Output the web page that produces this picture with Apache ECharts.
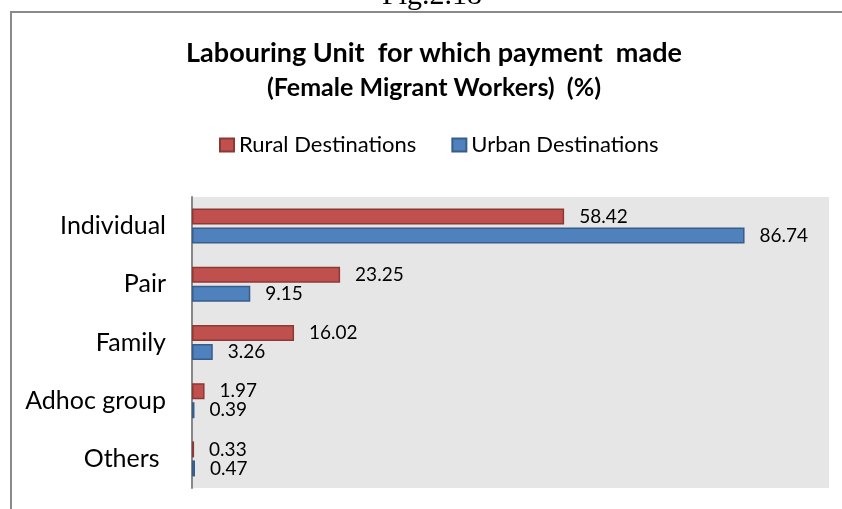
<!DOCTYPE html>
<html>
<head>
<meta charset="utf-8">
<script src="https://cdn.jsdelivr.net/npm/echarts@6/dist/echarts.min.js"></script>
<style>
  html, body { margin: 0; padding: 0; background: #fff; }
  #chart { width: 842px; height: 509px; }
</style>
</head>
<body>
<div id="chart"></div>
<script>
// categories top to bottom
const categories = ['Individual', 'Pair', 'Family', 'Adhoc group', 'Others '];
const rural = [58.42, 23.25, 16.02, 1.97, 0.33];
const urban = [86.74, 9.15, 3.26, 0.39, 0.47];
const seriesNames = ['Rural Destinations', 'Urban Destinations'];

const font = 'Lato';

window.onload = function(){
    let myChart = echarts.init(document.getElementById('chart'));

    let option = {
        backgroundColor: '#fff',
        animation: false,
        textStyle: { fontFamily: font },
        title: {
            text: 'Labouring Unit  for which payment  made',
            subtext: '(Female Migrant Workers)  (%)',
            left: 434,
            top: 38,
            padding: 0,
            textAlign: 'center',
            itemGap: 5,
            textStyle: { fontFamily: font, fontSize: 27, fontWeight: 'bold', color: '#000', lineHeight: 30 },
            subtextStyle: { fontFamily: font, fontSize: 25, fontWeight: 'bold', color: '#000', lineHeight: 30 }
        },
        legend: {
            data: seriesNames,
            left: 219,
            top: 134,
            padding: 0,
            itemWidth: 14,
            itemHeight: 13,
            itemGap: 35,
            icon: 'rect',
            textStyle: { fontFamily: font, fontSize: 22, color: '#000' }
        },
        graphic: [
            {
                // outer frame of the figure
                type: 'rect',
                shape: { x: 11, y: 12, width: 900, height: 600 },
                style: { fill: 'none', stroke: '#8a8a8a', lineWidth: 2 },
                silent: true
            },
            {
                type: 'text',
                x: 432,
                y: 11,
                style: {
                    text: 'Fig.2.18',
                    font: '30px "Liberation Serif"',
                    fill: '#000',
                    align: 'center',
                    verticalAlign: 'bottom'
                }
            }
        ],
        grid: {
            left: 192,
            right: 13,
            top: 197,
            bottom: 21,
            show: true,
            backgroundColor: '#e6e6e6',
            borderWidth: 0
        },
        xAxis: {
            type: 'value',
            min: 0,
            max: 100,
            show: false,
            splitLine: { show: false }
        },
        yAxis: {
            type: 'category',
            data: categories,
            inverse: true,
            axisLine: { show: true, lineStyle: { color: '#888', width: 2 } },
            axisTick: { show: false },
            axisLabel: { margin: 26, fontFamily: font, fontSize: 25, color: '#000' }
        },
        series: [
            {
                name: seriesNames[0],
                type: 'bar',
                data: rural,
                barWidth: 16,
                barGap: '19%',
                itemStyle: { color: '#c0504d', borderColor: '#8c3836', borderWidth: 1.5 },
                label: { show: true, position: 'right', distance: 15, fontFamily: font, fontSize: 19, color: '#000' }
            },
            {
                name: seriesNames[1],
                type: 'bar',
                data: urban,
                barWidth: 16,
                barGap: '19%',
                itemStyle: { color: '#4f81bd', borderColor: '#385d8a', borderWidth: 1.5 },
                label: { show: true, position: 'right', distance: 15, fontFamily: font, fontSize: 19, color: '#000' }
            }
        ]
    };
    myChart.setOption(option);
}
</script>
</body>
</html>
